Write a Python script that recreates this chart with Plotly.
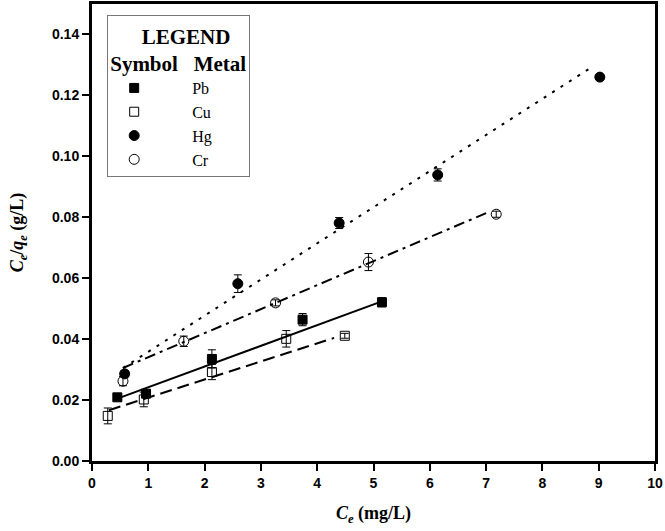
import plotly.graph_objects as go

# ---- data ----
pb_x = [0.45, 0.96, 2.13, 3.74, 5.15]
pb_y = [0.0209, 0.0221, 0.0335, 0.0464, 0.0521]
pb_err = [0.0008, 0.0012, 0.0030, 0.0020, 0.0015]

cu_x = [0.28, 0.92, 2.13, 3.45, 4.49]
cu_y = [0.0148, 0.0202, 0.0292, 0.0401, 0.0411]
cu_err = [0.0026, 0.0024, 0.0025, 0.0027, 0.0008]

hg_x = [0.58, 2.59, 4.39, 6.14, 9.02]
hg_y = [0.0286, 0.0582, 0.0781, 0.0939, 0.1260]
hg_err = [0.0010, 0.0029, 0.0018, 0.0020, 0.0]

cr_x = [0.55, 1.63, 3.26, 4.91, 7.18]
cr_y = [0.0262, 0.0393, 0.0519, 0.0653, 0.0810]
cr_err = [0.0015, 0.0017, 0.0010, 0.0028, 0.0010]

# linear fits (intercept, slope, x-start, x-end)
fit_names = ["Pb", "Cu", "Hg", "Cr"]
fit_intercept = [0.0174, 0.0149, 0.0240, 0.0262]
fit_slope = [0.0068, 0.00593, 0.01186, 0.00788]
fit_x0 = [0.45, 0.30, 0.55, 0.55]
fit_x1 = [5.10, 4.30, 8.90, 7.00]
fit_dash = ["solid", "12px,6px", "3px,7px", "11px,5px,3px,5px"]

x_ticks = list(range(0, 11))
y_ticks = [0.00, 0.02, 0.04, 0.06, 0.08, 0.10, 0.12, 0.14]

fig = go.Figure()

for name, b, m, x0, x1, dash in zip(fit_names, fit_intercept, fit_slope, fit_x0, fit_x1, fit_dash):
    xs = [x0, x1]
    ys = [b + m * x for x in xs]
    fig.add_trace(go.Scatter(x=xs, y=ys, mode="lines", showlegend=False,
                             line=dict(color="black", width=2, dash=dash), hoverinfo="skip"))

series = [
    ("Pb", pb_x, pb_y, pb_err, "square", "black"),
    ("Cu", cu_x, cu_y, cu_err, "square-open", "black"),
    ("Hg", hg_x, hg_y, hg_err, "circle", "black"),
    ("Cr", cr_x, cr_y, cr_err, "circle-open", "black"),
]
pad = "&nbsp;" * 8
for name, xs, ys, err, sym, col in series:
    fig.add_trace(go.Scatter(
        x=xs, y=ys, mode="markers", name=pad + name,
        marker=dict(symbol=sym, size=10 if "circle" in sym else 9, color=col,
                    line=dict(color="black", width=1)),
        error_y=dict(type="data", array=err, visible=True, color="black",
                     thickness=1, width=4),
    ))

axis_common = dict(
    showline=True, linecolor="black", linewidth=3, mirror=True,
    ticks="outside", ticklen=7, tickwidth=2, tickcolor="black",
    showgrid=False, zeroline=False, automargin=False,
    tickfont=dict(family="Liberation Sans", size=14, color="black", weight="bold"),
)

fig.update_xaxes(
    range=[0, 10], tickvals=x_ticks, ticktext=[str(v) for v in x_ticks],
    title=dict(text="<i><b>C</b></i><sub><i><b>e</b></i></sub><b> (mg/L)</b>",
               font=dict(family="Liberation Serif", size=18, color="black"), standoff=17),
    **axis_common)
fig.update_yaxes(
    range=[0, 0.15], tickvals=y_ticks, ticktext=[f"{v:.2f}" for v in y_ticks],
    title=dict(text="<i><b>C</b></i><sub><i><b>e</b></i></sub><b>/</b><i><b>q</b></i><sub><i><b>e</b></i></sub><b> (g/L)</b>",
               font=dict(family="Liberation Serif", size=18, color="black"), standoff=24),
    **axis_common)

fig.update_layout(
    width=665, height=531,
    margin=dict(l=92, r=10, t=4, b=70),
    plot_bgcolor="white", paper_bgcolor="white",
    legend=dict(
        x=0.027, y=0.975, xanchor="left", yanchor="top",
        bordercolor="#777777", borderwidth=1, bgcolor="white",
        font=dict(family="Liberation Serif", size=16, color="black"),
        title=dict(text="&nbsp;&nbsp;&nbsp;&nbsp;&nbsp;&nbsp;<b>LEGEND</b><br><b>Symbol&nbsp;&nbsp;&nbsp;Metal</b>",
                   side="top",
                   font=dict(family="Liberation Serif", size=21, color="black")),
        itemwidth=42,
        tracegroupgap=0,
    ),
)

fig.write_html("out.html", config={"displayModeBar": False},
               post_script="document.body.style.margin='0px';")
